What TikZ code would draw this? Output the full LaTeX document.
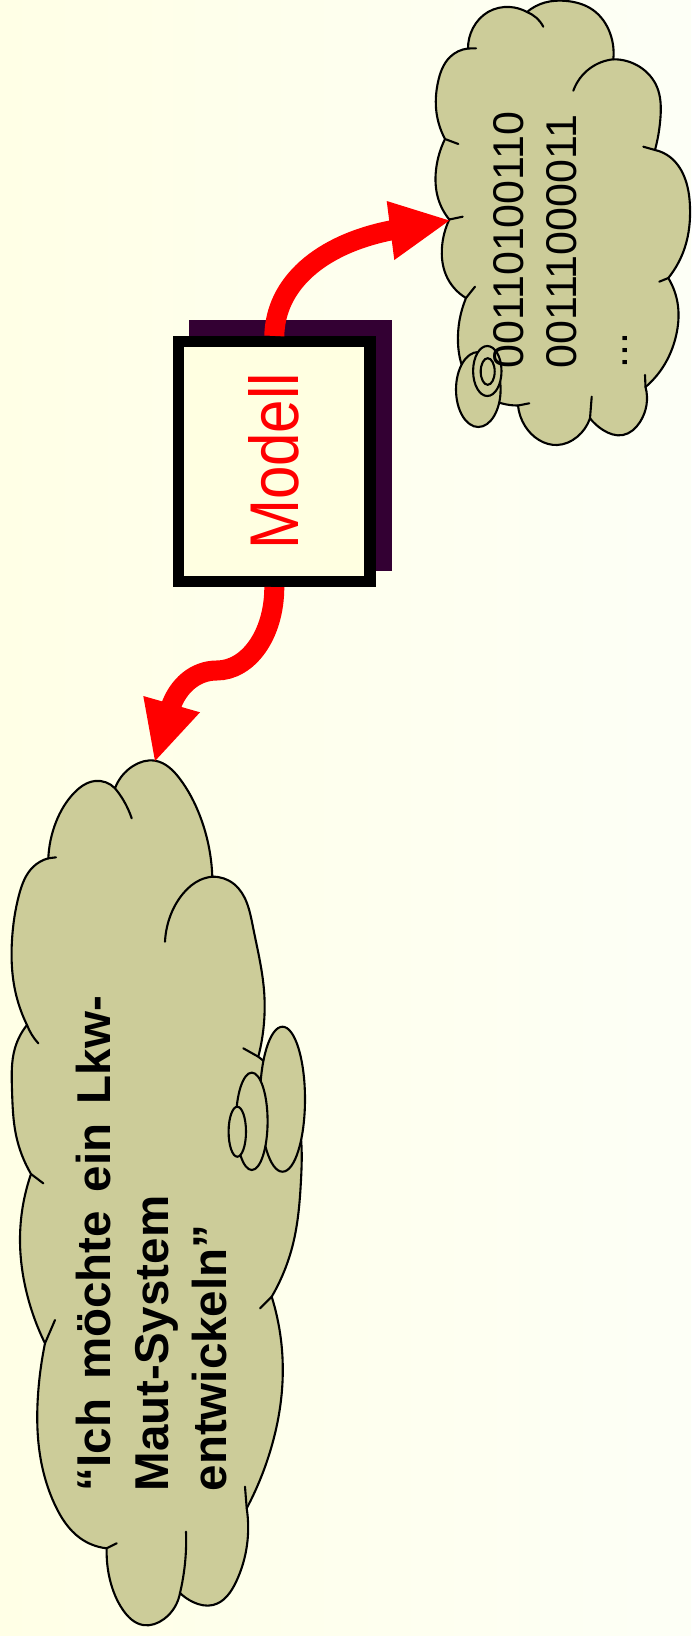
\documentclass[tikz,border=0pt]{standalone}
\usepackage{fontspec}
\setmainfont{Liberation Sans}
\usepackage{graphicx}
\usetikzlibrary{hobby}
\definecolor{bgL}{RGB}{255,255,230}
\definecolor{bgR}{RGB}{253,255,246}
\definecolor{cloudfill}{RGB}{204,204,153}
\definecolor{shadowcol}{RGB}{51,0,51}
\definecolor{boxfill}{RGB}{255,255,225}
\definecolor{arrowred}{RGB}{255,0,0}
\begin{document}
\begin{tikzpicture}[x=1pt,y=-1pt,
  cloud/.style={fill=cloudfill, draw=black, line width=2.1pt, line join=round, use Hobby shortcut},
  cloudline/.style={draw=black, line width=2.1pt, line cap=round, use Hobby shortcut},
  bubble/.style={fill=cloudfill, draw=black, line width=2.1pt},
  shaft/.style={draw=arrowred, line width=20pt},
  headfill/.style={fill=arrowred},
  modelbox/.style={draw=black, line width=11.5pt, fill=boxfill, minimum width=191.8pt,
    minimum height=239.6pt, inner sep=0pt, text=arrowred, font=\fontsize{69pt}{80pt}\selectfont},
  bintext/.style={rotate=90, anchor=base west, inner sep=0pt, font=\fontsize{43pt}{51pt}\selectfont},
  quotetext/.style={rotate=90, anchor=base west, inner sep=0pt, font=\fontsize{47.5pt}{58pt}\selectfont\bfseries}
]
\useasboundingbox (0,0) rectangle (691,1636);
\shade[left color=bgL, right color=bgR] (0,0) rectangle (691,1636);

% ---------- upper cloud ----------
\filldraw[cloud]
 (527,12) .. (545,2.5) .. (567,1) .. (593,10) .. (610,33) .. (613.3,59.3)
 -- (613.3,59.3) .. (640,67) .. (657,87) .. (660.5,117) .. (655,150)
 -- (655,150) .. (670,157) .. (684,176) .. (690,207) .. (685,247) .. (668.3,278)
 -- (668.3,278) .. (678,306) .. (676,336) .. (663,367) .. (645.5,387)
 -- (645.5,387) .. (646.5,405) .. (640,422) .. (623,435) .. (603,430) .. (590,418.3)
 -- (590,418.3) .. (577,437) .. (557,445) .. (539,440) .. (525,426) .. (518,405.5)
 -- (518,405.5) .. (487,397) .. (465,373) .. (458,343) .. (466,298)
 -- (466,298) .. (446,275) .. (442,247) .. (449.3,219.5)
 -- (449.3,219.5) .. (438,198) .. (436,170) .. (445,139)
 -- (445,139) .. (436,108) .. (438,82) .. (450,57) .. (468,48.5)
 -- (468,48.5) .. (473,28) .. (488,12) .. (510,7) .. (527,12)
 -- cycle;
\draw[cloudline] (527,12) .. (536,17.5) .. (543.3,26.7);
\draw[cloudline] (613.3,59.3) .. (590,68.3) .. (573.3,90.7);
\draw[cloudline] (655,150) -- (643.3,146.7);
\draw[cloudline] (668.3,278) -- (659.3,281.7);
\draw[cloudline] (645.5,387) -- (645,375);
\draw[cloudline] (590,418.3) -- (591.7,396.7);
\draw[cloudline] (518,405.5) -- (529.3,403.3);
\draw[cloudline] (466,298) -- (475,286.7);
\draw[cloudline] (449.3,219.5) -- (462.7,216.7);
\draw[cloudline] (445,139) -- (458.3,144);
\draw[cloudline] (468,48.5) -- (476,48.3);
\filldraw[bubble] (478.3,389.5) ellipse [x radius=22.3, y radius=37.5];
\filldraw[bubble] (487.3,371) ellipse [x radius=14.2, y radius=25];
\filldraw[bubble] (487.7,371.5) ellipse [x radius=7, y radius=13.3];
\node[bintext] (bin1) at (523.5,368.5) {00110100110};
\node[bintext] (bin2) at (576,368.5) {00111000011};
\node[bintext] (bin3) at (627,368.5) {...};

% ---------- lower cloud ----------
\filldraw[cloud]
 (115,788.3) .. (133,766) .. (155,760.7) .. (180,779) .. (200,816) .. (212.3,876.7)
 -- (212.3,876.7) .. (234,884) .. (253,927) .. (264,990) .. (258.3,1056.7)
 -- (258.3,1056.7) .. (286,1088) .. (300,1130) .. (301,1180) .. (293,1244) .. (271.7,1296.7)
 -- (271.7,1296.7) .. (281,1340) .. (282,1390) .. (272,1445) .. (246.7,1508.3)
 -- (246.7,1508.3) .. (247,1545) .. (236,1582) .. (213,1605) .. (193,1602) .. (180,1593)
 -- (180,1593) .. (164,1619) .. (143,1625) .. (123,1610) .. (110,1580) .. (106.7,1548.3)
 -- (106.7,1548.3) .. (80,1538) .. (55,1505) .. (40,1455) .. (38,1395) .. (45,1343.3)
 -- (45,1343.3) .. (26,1290) .. (20,1240) .. (31,1174)
 -- (31,1174) .. (16,1135) .. (12,1090) .. (15,1048) .. (27,1025)
 -- (27,1025) .. (15,990) .. (12,940) .. (19,895) .. (33,867) .. (48.3,858.3)
 -- (48.3,858.3) .. (56,822) .. (74,793) .. (95,781) .. (115,788.3)
 -- cycle;
\draw[cloudline] (115,788.3) .. (123.3,800) .. (131.7,818.3);
\draw[cloudline] (48.3,858.3) -- (56,857.3);
\draw[cloudline] (27,1025) .. (32,1035) .. (38.3,1043.3);
\draw[cloudline] (31,1174) -- (43.3,1183.3);
\draw[cloudline] (45,1343.3) -- (55,1320);
\draw[cloudline] (106.7,1548.3) -- (116.7,1543.3);
\draw[cloudline] (180,1593) .. (185,1563.3) .. (186,1531.7);
\draw[cloudline] (246.7,1508.3) -- (245,1486.7);
\draw[cloudline] (271.7,1296.7) -- (260,1308.3);
\draw[cloudline] (258.3,1056.7) -- (243.3,1048.3);
\draw[cloudline] (212.3,876.7) .. (200,880) .. (183.3,893.3) .. (170,916.7) .. (165,941.7);
\filldraw[bubble] (282.5,1099.2) ellipse [x radius=22.5, y radius=72.5];
\filldraw[bubble] (251.8,1121.3) ellipse [x radius=15.8, y radius=48.7];
\filldraw[bubble] (237.3,1131.7) ellipse [x radius=8.7, y radius=25];
\node[quotetext] (q1) at (110,1491.5) {\spaceskip=19pt\relax “Ich möchte ein Lkw-};
\node[quotetext] (q2) at (168.3,1491.5) {Maut-System};
\node[quotetext] (q3) at (226.7,1491.5) {entwickeln”};

% ---------- model box ----------
\fill[shadowcol] (189,320) rectangle (391.7,570.7);
\node[modelbox] (box) at (274.3,461.5) {\rotatebox{90}{\scalebox{0.87}[1]{Modell}}};

% ---------- arrows ----------
\coordinate (t1) at (449.3,220.5);
\coordinate (b1) at (393,230);
\draw[shaft] (box.north) .. controls +(1,-52) and (320,244) .. (b1);
\fill[headfill] (t1) -- (386.7,201) -- (394.3,260) -- cycle;

\coordinate (t2) at (155,761);
\coordinate (m2) at (216.7,670.5);
\coordinate (b2) at (170.7,707);
\draw[shaft] (box.south) .. controls +(0,48) and (248,670.5) .. (m2)
   .. controls (195,670.5) and (178,686) .. (b2);
\fill[headfill] (t2) -- (143.3,696) -- (200,712.3) -- cycle;
\end{tikzpicture}
\end{document}
